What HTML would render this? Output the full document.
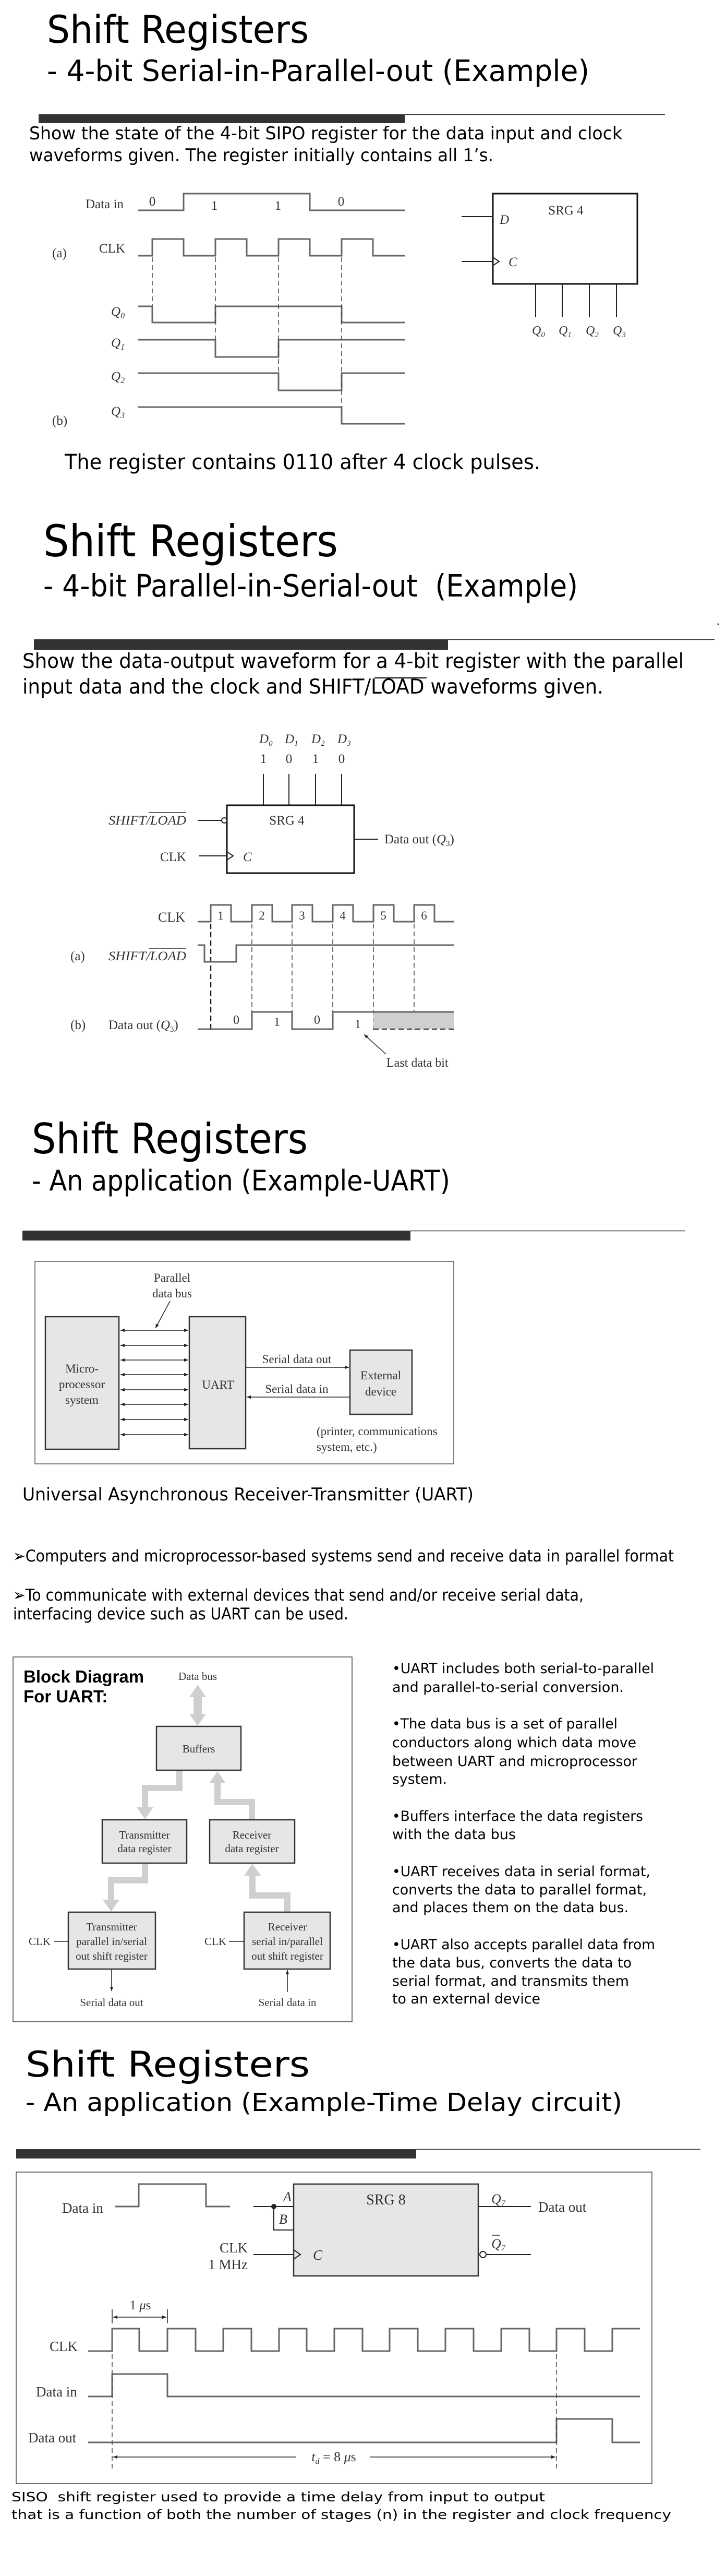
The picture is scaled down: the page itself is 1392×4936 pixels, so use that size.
<!DOCTYPE html>
<html><head><meta charset="utf-8">
<style>
html,body{margin:0;padding:0;background:#fff;}
svg{display:block;}
.s{font-family:"DejaVu Sans","Liberation Sans",sans-serif;fill:#000;}
.r{font-family:"Liberation Serif",serif;fill:#333;}
.i{font-style:italic;}
.w{fill:none;stroke:#666;stroke-width:3;}
.k{fill:none;stroke:#222;stroke-width:2;}
.d{fill:none;stroke:#444;stroke-width:1.5;stroke-dasharray:9 6;}
.g{fill:#e6e6e6;stroke:#333;stroke-width:2.5;}
.ga{fill:#cfcfcf;stroke:none;}
.gl{fill:none;stroke:#cfcfcf;stroke-width:12;}
</style></head><body>
<svg width="1392" height="4936" viewBox="0 0 1392 4936" xmlns="http://www.w3.org/2000/svg">
<defs>
<marker id="ah" viewBox="0 0 10 10" refX="10" refY="5" markerWidth="8" markerHeight="8" orient="auto-start-reverse" markerUnits="userSpaceOnUse"><path d="M0,1 L10,5 L0,9 z" fill="#222"/></marker>
</defs>

<!-- ============ PAGE 1 ============ -->
<text class="s" x="90" y="82" font-size="73" textLength="502" lengthAdjust="spacingAndGlyphs">Shift Registers</text>
<text class="s" x="90" y="155" font-size="56" textLength="1040" lengthAdjust="spacingAndGlyphs">- 4-bit Serial-in-Parallel-out (Example)</text>
<rect x="74" y="219" width="702" height="17" fill="#333"/>
<line x1="776" y1="219.5" x2="1275" y2="219.5" stroke="#333" stroke-width="1.5"/>
<text class="s" x="56" y="267" font-size="34" textLength="1137" lengthAdjust="spacingAndGlyphs">Show the state of the 4-bit SIPO register for the data input and clock</text>
<text class="s" x="56" y="309" font-size="34" textLength="890" lengthAdjust="spacingAndGlyphs">waveforms given. The register initially contains all 1’s.</text>

<g font-size="25">
<text class="r" x="164" y="399">Data in</text>
<text class="r" x="292" y="394" text-anchor="middle">0</text>
<text class="r" x="411" y="402" text-anchor="middle">1</text>
<text class="r" x="533" y="402" text-anchor="middle">1</text>
<text class="r" x="654" y="394" text-anchor="middle">0</text>
<text class="r" x="100" y="493">(a)</text>
<text class="r" x="190" y="484">CLK</text>
<text class="r i" x="213" y="605">Q<tspan font-size="16" dy="5">0</tspan></text>
<text class="r i" x="213" y="665">Q<tspan font-size="16" dy="5">1</tspan></text>
<text class="r i" x="213" y="729">Q<tspan font-size="16" dy="5">2</tspan></text>
<text class="r i" x="213" y="796">Q<tspan font-size="16" dy="5">3</tspan></text>
<text class="r" x="100" y="814">(b)</text>
</g>
<polyline class="w" points="265,403 352,403 352,371 594,371 594,403 776,403"/>
<polyline class="w" points="265,490 292,490 292,458 352,458 352,490 413,490 413,458 473,458 473,490 534,490 534,458 594,458 594,490 655,490 655,458 715,458 715,490 776,490"/>
<polyline class="w" points="265,587 292,587 292,618 413,618 413,587 655,587 655,618 776,618"/>
<polyline class="w" points="265,651 413,651 413,684 534,684 534,651 776,651"/>
<polyline class="w" points="265,715 534,715 534,748 655,748 655,715 776,715"/>
<polyline class="w" points="265,780 655,780 655,812 776,812"/>
<line class="d" x1="292" y1="493" x2="292" y2="587"/>
<line class="d" x1="413" y1="493" x2="413" y2="651"/>
<line class="d" x1="534" y1="493" x2="534" y2="715"/>
<line class="d" x1="655" y1="493" x2="655" y2="780"/>

<rect x="945" y="371" width="277" height="173" fill="none" stroke="#111" stroke-width="3"/>
<text class="r" x="1085" y="411" font-size="25" text-anchor="middle">SRG 4</text>
<line x1="885" y1="415" x2="945" y2="415" stroke="#222" stroke-width="2"/>
<text class="r i" x="958" y="429" font-size="25">D</text>
<line x1="885" y1="501" x2="945" y2="501" stroke="#222" stroke-width="2"/>
<polyline class="k" points="945,493 957,501 945,509"/>
<text class="r i" x="975" y="510" font-size="25">C</text>
<g stroke="#222" stroke-width="2">
<line x1="1027" y1="544" x2="1027" y2="608"/><line x1="1078" y1="544" x2="1078" y2="608"/>
<line x1="1130" y1="544" x2="1130" y2="608"/><line x1="1182" y1="544" x2="1182" y2="608"/>
</g>
<g font-size="24">
<text class="r i" x="1020" y="641">Q<tspan font-size="15" dy="5">0</tspan></text>
<text class="r i" x="1071" y="641">Q<tspan font-size="15" dy="5">1</tspan></text>
<text class="r i" x="1123" y="641">Q<tspan font-size="15" dy="5">2</tspan></text>
<text class="r i" x="1175" y="641">Q<tspan font-size="15" dy="5">3</tspan></text>
</g>
<text class="s" x="124" y="899" font-size="40" textLength="912" lengthAdjust="spacingAndGlyphs">The register contains 0110 after 4 clock pulses.</text>

<!-- ============ PAGE 2 ============ -->
<text class="s" x="83" y="1066" font-size="84" textLength="565" lengthAdjust="spacingAndGlyphs">Shift Registers</text>
<text class="s" x="83" y="1143" font-size="59" textLength="1025" lengthAdjust="spacingAndGlyphs">- 4-bit Parallel-in-Serial-out&#160;&#160;(Example)</text>
<rect x="65" y="1225" width="794" height="20" fill="#333"/>
<line x1="859" y1="1225.5" x2="1370" y2="1225.5" stroke="#333" stroke-width="1.5"/>
<circle cx="1377" cy="1196" r="1.5" fill="#333"/>
<text class="s" x="43" y="1280" font-size="39" textLength="1268" lengthAdjust="spacingAndGlyphs">Show the data-output waveform for a 4-bit register with the parallel</text>
<text class="s" x="43" y="1329" font-size="39" textLength="1114" lengthAdjust="spacingAndGlyphs">input data and the clock and SHIFT/LOAD waveforms given.</text>
<line x1="718" y1="1299" x2="818" y2="1299" stroke="#000" stroke-width="2"/>

<g font-size="25">
<text class="r i" x="497" y="1424">D<tspan font-size="15" dy="5">0</tspan></text>
<text class="r i" x="546" y="1424">D<tspan font-size="15" dy="5">1</tspan></text>
<text class="r i" x="597" y="1424">D<tspan font-size="15" dy="5">2</tspan></text>
<text class="r i" x="647" y="1424">D<tspan font-size="15" dy="5">3</tspan></text>
<text class="r" x="505" y="1462" text-anchor="middle">1</text>
<text class="r" x="554" y="1462" text-anchor="middle">0</text>
<text class="r" x="605" y="1462" text-anchor="middle">1</text>
<text class="r" x="655" y="1462" text-anchor="middle">0</text>
</g>
<g stroke="#222" stroke-width="2">
<line x1="505" y1="1483" x2="505" y2="1543"/><line x1="554" y1="1483" x2="554" y2="1543"/>
<line x1="605" y1="1483" x2="605" y2="1543"/><line x1="655" y1="1483" x2="655" y2="1543"/>
<line x1="379" y1="1572" x2="425" y2="1572"/>
<line x1="381" y1="1640" x2="435" y2="1640"/>
<line x1="679" y1="1608" x2="725" y2="1608"/>
</g>
<rect x="435" y="1543" width="244" height="130" fill="none" stroke="#111" stroke-width="3"/>
<circle cx="430" cy="1572" r="5" fill="#fff" stroke="#222" stroke-width="2"/>
<polyline class="k" points="435,1632 447,1640 435,1648"/>
<text class="r i" x="466" y="1650" font-size="25">C</text>
<text class="r" x="550" y="1580" font-size="25" text-anchor="middle">SRG 4</text>
<text class="r i" x="208" y="1580" font-size="25" textLength="149" lengthAdjust="spacingAndGlyphs">SHIFT/LOAD</text>
<line x1="285" y1="1557" x2="357" y2="1557" stroke="#333" stroke-width="1.5"/>
<text class="r" x="307" y="1650" font-size="25">CLK</text>
<text class="r" x="737" y="1616" font-size="25">Data out (<tspan class="i">Q</tspan><tspan font-size="15" dy="5">3</tspan><tspan dy="-5">)</tspan></text>

<text class="r" x="303" y="1766" font-size="26">CLK</text>
<polyline class="w" points="379,1766 404,1766 404,1734 443,1734 443,1766 483,1766 483,1734 522,1734 522,1766 560,1766 560,1734 599,1734 599,1766 638,1766 638,1734 677,1734 677,1766 716,1766 716,1734 755,1734 755,1766 794,1766 794,1734 833,1734 833,1766 870,1766"/>
<g font-size="23">
<text class="r" x="423" y="1762" text-anchor="middle">1</text>
<text class="r" x="502" y="1762" text-anchor="middle">2</text>
<text class="r" x="579" y="1762" text-anchor="middle">3</text>
<text class="r" x="657" y="1762" text-anchor="middle">4</text>
<text class="r" x="735" y="1762" text-anchor="middle">5</text>
<text class="r" x="813" y="1762" text-anchor="middle">6</text>
</g>
<line x1="404" y1="1770" x2="404" y2="1974" stroke="#222" stroke-width="2.5" stroke-dasharray="10 6"/>
<line class="d" x1="483" y1="1770" x2="483" y2="1939"/>
<line class="d" x1="560" y1="1770" x2="560" y2="1939"/>
<line class="d" x1="638" y1="1770" x2="638" y2="1939"/>
<line class="d" x1="716" y1="1770" x2="716" y2="1974"/>
<line class="d" x1="794" y1="1770" x2="794" y2="1974"/>
<polyline class="w" points="379,1811 392,1811 392,1843 453,1843 453,1811 870,1811"/>
<text class="r" x="135" y="1840" font-size="25">(a)</text>
<text class="r i" x="208" y="1840" font-size="25" textLength="149" lengthAdjust="spacingAndGlyphs">SHIFT/LOAD</text>
<line x1="285" y1="1817" x2="357" y2="1817" stroke="#333" stroke-width="1.5"/>
<rect x="716" y="1939" width="154" height="33" fill="#cfcfcf"/>
<polyline class="w" points="379,1972 483,1972 483,1939 560,1939 560,1972 638,1972 638,1939 870,1939"/>
<line x1="716" y1="1972" x2="870" y2="1972" stroke="#444" stroke-width="2.5" stroke-dasharray="10 6"/>
<g font-size="24">
<text class="r" x="453" y="1962" text-anchor="middle">0</text>
<text class="r" x="531" y="1966" text-anchor="middle">1</text>
<text class="r" x="608" y="1962" text-anchor="middle">0</text>
<text class="r" x="686" y="1970" text-anchor="middle">1</text>
</g>
<text class="r" x="135" y="1972" font-size="25">(b)</text>
<text class="r" x="208" y="1972" font-size="25">Data out (<tspan class="i">Q</tspan><tspan font-size="15" dy="5">3</tspan><tspan dy="-5">)</tspan></text>
<line x1="740" y1="2020" x2="698" y2="1982" stroke="#222" stroke-width="1.5" marker-end="url(#ah)"/>
<text class="r" x="741" y="2044" font-size="24">Last data bit</text>

<!-- ============ PAGE 3 ============ -->
<text class="s" x="61" y="2210" font-size="80" textLength="529" lengthAdjust="spacingAndGlyphs">Shift Registers</text>
<text class="s" x="61" y="2281" font-size="54" textLength="802" lengthAdjust="spacingAndGlyphs">- An application (Example-UART)</text>
<rect x="43" y="2358" width="744" height="19" fill="#333"/>
<line x1="787" y1="2358.5" x2="1314" y2="2358.5" stroke="#333" stroke-width="1.5"/>

<rect x="67" y="2417" width="803" height="388" fill="none" stroke="#555" stroke-width="1.5"/>
<text class="r" x="330" y="2456" font-size="23" text-anchor="middle">Parallel</text>
<text class="r" x="330" y="2486" font-size="23" text-anchor="middle">data bus</text>
<line x1="326" y1="2493" x2="298" y2="2545" stroke="#222" stroke-width="1.5" marker-end="url(#ah)"/>
<rect class="g" x="87" y="2523" width="141" height="254"/>
<rect class="g" x="363" y="2523" width="108" height="253"/>
<text class="r" x="157" y="2630" font-size="23" text-anchor="middle">Micro-</text>
<text class="r" x="157" y="2660" font-size="23" text-anchor="middle">processor</text>
<text class="r" x="157" y="2690" font-size="23" text-anchor="middle">system</text>
<text class="r" x="418" y="2661" font-size="23" text-anchor="middle">UART</text>
<g stroke="#222" stroke-width="1.5">
<line x1="231" y1="2549" x2="361" y2="2549" marker-start="url(#ah)" marker-end="url(#ah)"/>
<line x1="231" y1="2578" x2="361" y2="2578" marker-start="url(#ah)" marker-end="url(#ah)"/>
<line x1="231" y1="2606" x2="361" y2="2606" marker-start="url(#ah)" marker-end="url(#ah)"/>
<line x1="231" y1="2634" x2="361" y2="2634" marker-start="url(#ah)" marker-end="url(#ah)"/>
<line x1="231" y1="2663" x2="361" y2="2663" marker-start="url(#ah)" marker-end="url(#ah)"/>
<line x1="231" y1="2691" x2="361" y2="2691" marker-start="url(#ah)" marker-end="url(#ah)"/>
<line x1="231" y1="2720" x2="361" y2="2720" marker-start="url(#ah)" marker-end="url(#ah)"/>
<line x1="231" y1="2749" x2="361" y2="2749" marker-start="url(#ah)" marker-end="url(#ah)"/>
<line x1="471" y1="2620" x2="669" y2="2620" marker-end="url(#ah)"/>
<line x1="671" y1="2677" x2="473" y2="2677" marker-end="url(#ah)"/>
</g>
<text class="r" x="569" y="2612" font-size="23" text-anchor="middle">Serial data out</text>
<text class="r" x="569" y="2669" font-size="23" text-anchor="middle">Serial data in</text>
<rect class="g" x="671" y="2587" width="119" height="123"/>
<text class="r" x="730" y="2643" font-size="23" text-anchor="middle">External</text>
<text class="r" x="730" y="2674" font-size="23" text-anchor="middle">device</text>
<text class="r" x="607" y="2750" font-size="23">(printer, communications</text>
<text class="r" x="607" y="2780" font-size="23">system, etc.)</text>

<text class="s" x="43" y="2875" font-size="34" textLength="865" lengthAdjust="spacingAndGlyphs">Universal Asynchronous Receiver-Transmitter (UART)</text>
<text class="s" x="25" y="2992" font-size="31" textLength="1267" lengthAdjust="spacingAndGlyphs">➢Computers and microprocessor-based systems send and receive data in parallel format</text>
<text class="s" x="25" y="3067" font-size="31" textLength="1094" lengthAdjust="spacingAndGlyphs">➢To communicate with external devices that send and/or receive serial data,</text>
<text class="s" x="25" y="3103" font-size="31" textLength="643" lengthAdjust="spacingAndGlyphs">interfacing device such as UART can be used.</text>

<!-- Block diagram -->
<rect x="25" y="3175" width="650" height="699" fill="none" stroke="#444" stroke-width="1.5"/>
<text x="45" y="3224" font-family="Liberation Sans,sans-serif" font-weight="bold" font-size="33">Block Diagram</text>
<text x="45" y="3262" font-family="Liberation Sans,sans-serif" font-weight="bold" font-size="33">For UART:</text>
<text class="r" x="379" y="3219" font-size="21" text-anchor="middle">Data bus</text>
<rect class="ga" x="371" y="3248" width="16" height="40"/>
<polygon class="ga" points="379,3228 395,3252 363,3252"/>
<polygon class="ga" points="379,3307 395,3284 363,3284"/>
<polyline class="gl" points="344,3392 344,3426 278,3426 278,3465"/>
<polygon class="ga" points="262,3463 294,3463 278,3486"/>
<polyline class="gl" points="483,3487 483,3453 417,3453 417,3414"/>
<polygon class="ga" points="401,3417 433,3417 417,3394"/>
<polyline class="gl" points="278,3570 278,3603 213,3603 213,3642"/>
<polygon class="ga" points="197,3640 229,3640 213,3663"/>
<polyline class="gl" points="551,3664 551,3632 484,3632 484,3592"/>
<polygon class="ga" points="468,3594 500,3594 484,3571"/>
<rect class="g" x="300" y="3308" width="162" height="84" stroke-width="1.5"/>
<text class="r" x="381" y="3358" font-size="21" text-anchor="middle">Buffers</text>
<rect class="g" x="196" y="3487" width="162" height="83" stroke-width="1.5"/>
<text class="r" x="277" y="3523" font-size="21" text-anchor="middle">Transmitter</text>
<text class="r" x="277" y="3549" font-size="21" text-anchor="middle">data register</text>
<rect class="g" x="402" y="3487" width="163" height="83" stroke-width="1.5"/>
<text class="r" x="483" y="3523" font-size="21" text-anchor="middle">Receiver</text>
<text class="r" x="483" y="3549" font-size="21" text-anchor="middle">data register</text>
<rect class="g" x="131" y="3664" width="167" height="109" stroke-width="1.5"/>
<text class="r" x="214" y="3699" font-size="21" text-anchor="middle">Transmitter</text>
<text class="r" x="214" y="3727" font-size="21" text-anchor="middle">parallel in/serial</text>
<text class="r" x="214" y="3755" font-size="21" text-anchor="middle">out shift register</text>
<rect class="g" x="468" y="3664" width="165" height="109" stroke-width="1.5"/>
<text class="r" x="551" y="3699" font-size="21" text-anchor="middle">Receiver</text>
<text class="r" x="551" y="3727" font-size="21" text-anchor="middle">serial in/parallel</text>
<text class="r" x="551" y="3755" font-size="21" text-anchor="middle">out shift register</text>
<text class="r" x="55" y="3727" font-size="21">CLK</text>
<text class="r" x="392" y="3727" font-size="21">CLK</text>
<g stroke="#222" stroke-width="1.5">
<line x1="104" y1="3720" x2="131" y2="3720"/>
<line x1="439" y1="3720" x2="468" y2="3720"/>
<line x1="214" y1="3773" x2="214" y2="3815" marker-end="url(#ah)"/>
<line x1="551" y1="3817" x2="551" y2="3775" marker-end="url(#ah)"/>
</g>
<text class="r" x="214" y="3844" font-size="21" text-anchor="middle">Serial data out</text>
<text class="r" x="551" y="3844" font-size="21" text-anchor="middle">Serial data in</text>

<g font-size="27">
<text class="s" x="752" y="3206" textLength="502" lengthAdjust="spacingAndGlyphs">•UART includes both serial-to-parallel</text>
<text class="s" x="752" y="3242" textLength="444" lengthAdjust="spacingAndGlyphs">and parallel-to-serial conversion.</text>
<text class="s" x="752" y="3312" textLength="432" lengthAdjust="spacingAndGlyphs">•The data bus is a set of parallel</text>
<text class="s" x="752" y="3348" textLength="468" lengthAdjust="spacingAndGlyphs">conductors along which data move</text>
<text class="s" x="752" y="3384" textLength="470" lengthAdjust="spacingAndGlyphs">between UART and microprocessor</text>
<text class="s" x="752" y="3418" textLength="105" lengthAdjust="spacingAndGlyphs">system.</text>
<text class="s" x="752" y="3489" textLength="481" lengthAdjust="spacingAndGlyphs">•Buffers interface the data registers</text>
<text class="s" x="752" y="3524" textLength="237" lengthAdjust="spacingAndGlyphs">with the data bus</text>
<text class="s" x="752" y="3595" textLength="495" lengthAdjust="spacingAndGlyphs">•UART receives data in serial format,</text>
<text class="s" x="752" y="3630" textLength="488" lengthAdjust="spacingAndGlyphs">converts the data to parallel format,</text>
<text class="s" x="752" y="3664" textLength="453" lengthAdjust="spacingAndGlyphs">and places them on the data bus.</text>
<text class="s" x="752" y="3735" textLength="504" lengthAdjust="spacingAndGlyphs">•UART also accepts parallel data from</text>
<text class="s" x="752" y="3770" textLength="459" lengthAdjust="spacingAndGlyphs">the data bus, converts the data to</text>
<text class="s" x="752" y="3805" textLength="454" lengthAdjust="spacingAndGlyphs">serial format, and transmits them</text>
<text class="s" x="752" y="3839" textLength="284" lengthAdjust="spacingAndGlyphs">to an external device</text>
</g>

<!-- ============ PAGE 4 ============ -->
<text class="s" x="49" y="3979" font-size="68" textLength="545" lengthAdjust="spacingAndGlyphs">Shift Registers</text>
<text class="s" x="49" y="4045" font-size="48" textLength="1144" lengthAdjust="spacingAndGlyphs">- An application (Example-Time Delay circuit)</text>
<rect x="31" y="4118" width="767" height="18" fill="#333"/>
<line x1="798" y1="4118.5" x2="1343" y2="4118.5" stroke="#333" stroke-width="1.5"/>
<rect x="31" y="4162" width="1219" height="597" fill="none" stroke="#444" stroke-width="1.5"/>

<text class="r" x="119" y="4240" font-size="27">Data in</text>
<polyline class="w" points="220,4228 266,4228 266,4185 395,4185 395,4228 441,4228"/>
<g stroke="#222" stroke-width="2">
<line x1="486" y1="4228" x2="563" y2="4228"/>
<polyline fill="none" points="525,4228 525,4273 563,4273"/>
<line x1="486" y1="4320" x2="563" y2="4320"/>
<line x1="917" y1="4228" x2="1018" y2="4228"/>
<line x1="933" y1="4320" x2="1018" y2="4320"/>
</g>
<circle cx="525" cy="4228" r="5" fill="#222"/>
<rect class="g" x="563" y="4185" width="354" height="176" stroke="#111" stroke-width="3"/>
<text class="r i" x="543" y="4218" font-size="26">A</text>
<text class="r i" x="535" y="4261" font-size="26">B</text>
<text class="r" x="740" y="4224" font-size="28" text-anchor="middle">SRG 8</text>
<polyline class="k" points="563,4311 576,4320 563,4329"/>
<text class="r i" x="600" y="4330" font-size="27">C</text>
<text class="r" x="475" y="4316" font-size="27" text-anchor="end">CLK</text>
<text class="r" x="475" y="4348" font-size="27" text-anchor="end">1 MHz</text>
<circle cx="926" cy="4320" r="6" fill="#fff" stroke="#222" stroke-width="2"/>
<text class="r i" x="942" y="4222" font-size="26">Q<tspan font-size="16" dy="5">7</tspan></text>
<text class="r i" x="942" y="4308" font-size="26">Q<tspan font-size="16" dy="5">7</tspan></text>
<line x1="943" y1="4283" x2="959" y2="4283" stroke="#333" stroke-width="1.5"/>
<text class="r" x="1032" y="4238" font-size="27">Data out</text>

<text class="r" x="269" y="4425" font-size="25" text-anchor="middle">1 <tspan class="i">μ</tspan>s</text>
<g stroke="#222" stroke-width="1.5">
<line x1="215" y1="4425" x2="215" y2="4452"/>
<line x1="321" y1="4425" x2="321" y2="4452"/>
<line x1="217" y1="4440" x2="319" y2="4440" marker-start="url(#ah)" marker-end="url(#ah)"/>
<line x1="217" y1="4708" x2="568" y2="4708" marker-start="url(#ah)"/>
<line x1="710" y1="4708" x2="1065" y2="4708" marker-end="url(#ah)"/>
</g>
<text class="r" x="95" y="4505" font-size="27">CLK</text>
<polyline class="w" points="169,4505 215,4505 215,4462 267,4462 267,4505 321,4505 321,4462 375,4462 375,4505 428,4505 428,4462 482,4462 482,4505 535,4505 535,4462 588,4462 588,4505 641,4505 641,4462 695,4462 695,4505 747,4505 747,4462 801,4462 801,4505 854,4505 854,4462 908,4462 908,4505 961,4505 961,4462 1015,4462 1015,4505 1067,4505 1067,4462 1121,4462 1121,4505 1174,4505 1174,4462 1227,4462"/>
<text class="r" x="69" y="4592" font-size="27">Data in</text>
<polyline class="w" points="169,4592 215,4592 215,4549 321,4549 321,4592 1227,4592"/>
<text class="r" x="54" y="4680" font-size="27">Data out</text>
<polyline class="w" points="169,4680 1067,4680 1067,4635 1174,4635 1174,4680 1227,4680"/>
<line class="d" x1="215" y1="4511" x2="215" y2="4736"/>
<line class="d" x1="1067" y1="4511" x2="1067" y2="4736"/>
<text class="r" x="640" y="4716" font-size="26" text-anchor="middle"><tspan class="i">t</tspan><tspan font-size="16" dy="5" class="i">d</tspan><tspan dy="-5"> = 8 </tspan><tspan class="i">μ</tspan>s</text>

<text class="s" x="22" y="4793" font-size="25" textLength="1023" lengthAdjust="spacingAndGlyphs" xml:space="preserve">SISO  shift register used to provide a time delay from input to output</text>
<text class="s" x="22" y="4827" font-size="25" textLength="1265" lengthAdjust="spacingAndGlyphs">that is a function of both the number of stages (n) in the register and clock frequency</text>
</svg>
</body></html>
